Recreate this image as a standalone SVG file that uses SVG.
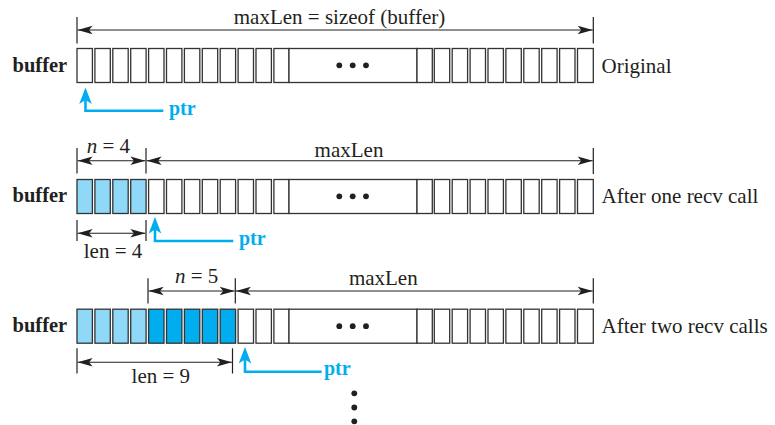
<svg xmlns="http://www.w3.org/2000/svg" width="775" height="425" viewBox="0 0 775 425">
<style>
.c{fill:#fff;stroke:#333;stroke-width:1.3}
.lb{fill:#8fd8f7}
.db{fill:#00adef}
.t{font-family:"Liberation Serif","Times New Roman",serif;font-size:21px;fill:#231f20}
.b{font-family:"Liberation Serif","Times New Roman",serif;font-size:20.5px;font-weight:bold;fill:#231f20}
.p{font-family:"Liberation Serif","Times New Roman",serif;font-size:20px;font-weight:bold;fill:#00aeef}
.dim{stroke:#231f20;stroke-width:1.1;fill:none}
.tick{stroke:#231f20;stroke-width:1.2}
.ptr{stroke:#00aeef;stroke-width:2.6;fill:none}
.ph{fill:#00aeef}
.dot{fill:#231f20}
</style>
<defs>
<marker id="ah" markerUnits="userSpaceOnUse" markerWidth="16" markerHeight="9" refX="15" refY="4.2" orient="auto-start-reverse" overflow="visible">
<path d="M0,0 L15,4.2 L0,8.4 L3.5,4.2 Z" fill="#231f20"/>
</marker>
<path id="ptrhead" d="M0,0 L6.3,16.5 L0,12.5 L-6.3,16.5 Z"/>
</defs>

<g id="row1">
<text class="b" x="12.5" y="72.3">buffer</text>
<rect class="c" x="77" y="48.5" width="15.4" height="34"/>
<rect class="c" x="94.9" y="48.5" width="15.4" height="34"/>
<rect class="c" x="112.8" y="48.5" width="15.4" height="34"/>
<rect class="c" x="130.7" y="48.5" width="15.4" height="34"/>
<rect class="c" x="148.6" y="48.5" width="15.4" height="34"/>
<rect class="c" x="166.5" y="48.5" width="15.4" height="34"/>
<rect class="c" x="184.4" y="48.5" width="15.4" height="34"/>
<rect class="c" x="202.3" y="48.5" width="15.4" height="34"/>
<rect class="c" x="220.2" y="48.5" width="15.4" height="34"/>
<rect class="c" x="238.1" y="48.5" width="15.4" height="34"/>
<rect class="c" x="256" y="48.5" width="15.4" height="34"/>
<rect class="c" x="273.9" y="48.5" width="15.1" height="34"/>
<rect class="c" x="289" y="48.5" width="128" height="34"/>
<rect class="c" x="417" y="48.5" width="15.3" height="34"/>
<rect class="c" x="434.3" y="48.5" width="15.4" height="34"/>
<rect class="c" x="452.2" y="48.5" width="15.4" height="34"/>
<rect class="c" x="470.1" y="48.5" width="15.4" height="34"/>
<rect class="c" x="488" y="48.5" width="15.4" height="34"/>
<rect class="c" x="505.9" y="48.5" width="15.4" height="34"/>
<rect class="c" x="523.8" y="48.5" width="15.4" height="34"/>
<rect class="c" x="541.7" y="48.5" width="15.4" height="34"/>
<rect class="c" x="559.6" y="48.5" width="15.4" height="34"/>
<rect class="c" x="577.5" y="48.5" width="15.8" height="34"/>
<circle class="dot" cx="339.3" cy="65.3" r="2.9"/>
<circle class="dot" cx="352.7" cy="65.3" r="2.9"/>
<circle class="dot" cx="366" cy="65.3" r="2.9"/>
<text class="t" x="601.5" y="72.5">Original</text>
<text class="t" x="339.5" y="24" text-anchor="middle">maxLen = sizeof (buffer)</text>
<text class="p" x="169" y="115">ptr</text>
</g>

<g id="row2">
<text class="b" x="12.5" y="202.3">buffer</text>
<rect class="c lb" x="77" y="179.5" width="15.4" height="34"/>
<rect class="c lb" x="94.9" y="179.5" width="15.4" height="34"/>
<rect class="c lb" x="112.8" y="179.5" width="15.4" height="34"/>
<rect class="c lb" x="130.7" y="179.5" width="15.4" height="34"/>
<rect class="c" x="148.6" y="179.5" width="15.4" height="34"/>
<rect class="c" x="166.5" y="179.5" width="15.4" height="34"/>
<rect class="c" x="184.4" y="179.5" width="15.4" height="34"/>
<rect class="c" x="202.3" y="179.5" width="15.4" height="34"/>
<rect class="c" x="220.2" y="179.5" width="15.4" height="34"/>
<rect class="c" x="238.1" y="179.5" width="15.4" height="34"/>
<rect class="c" x="256" y="179.5" width="15.4" height="34"/>
<rect class="c" x="273.9" y="179.5" width="15.1" height="34"/>
<rect class="c" x="289" y="179.5" width="128" height="34"/>
<rect class="c" x="417" y="179.5" width="15.3" height="34"/>
<rect class="c" x="434.3" y="179.5" width="15.4" height="34"/>
<rect class="c" x="452.2" y="179.5" width="15.4" height="34"/>
<rect class="c" x="470.1" y="179.5" width="15.4" height="34"/>
<rect class="c" x="488" y="179.5" width="15.4" height="34"/>
<rect class="c" x="505.9" y="179.5" width="15.4" height="34"/>
<rect class="c" x="523.8" y="179.5" width="15.4" height="34"/>
<rect class="c" x="541.7" y="179.5" width="15.4" height="34"/>
<rect class="c" x="559.6" y="179.5" width="15.4" height="34"/>
<rect class="c" x="577.5" y="179.5" width="15.8" height="34"/>
<circle class="dot" cx="339.3" cy="196.3" r="2.9"/>
<circle class="dot" cx="352.7" cy="196.3" r="2.9"/>
<circle class="dot" cx="366" cy="196.3" r="2.9"/>
<text class="t" x="601.5" y="202.5">After one recv call</text>
<text class="t" x="108.3" y="153.3" text-anchor="middle"><tspan font-style="italic">n</tspan> = 4</text>
<text class="t" x="349" y="156.7" text-anchor="middle">maxLen</text>
<text class="t" x="113" y="258.3" text-anchor="middle">len = 4</text>
<text class="p" x="239" y="245">ptr</text>
</g>

<g id="row3">
<text class="b" x="12.5" y="331.8">buffer</text>
<rect class="c lb" x="77" y="309.2" width="15.4" height="34"/>
<rect class="c lb" x="94.9" y="309.2" width="15.4" height="34"/>
<rect class="c lb" x="112.8" y="309.2" width="15.4" height="34"/>
<rect class="c lb" x="130.7" y="309.2" width="15.4" height="34"/>
<rect class="c db" x="148.6" y="309.2" width="15.4" height="34"/>
<rect class="c db" x="166.5" y="309.2" width="15.4" height="34"/>
<rect class="c db" x="184.4" y="309.2" width="15.4" height="34"/>
<rect class="c db" x="202.3" y="309.2" width="15.4" height="34"/>
<rect class="c db" x="220.2" y="309.2" width="15.4" height="34"/>
<rect class="c" x="238.1" y="309.2" width="15.4" height="34"/>
<rect class="c" x="256" y="309.2" width="15.4" height="34"/>
<rect class="c" x="273.9" y="309.2" width="15.1" height="34"/>
<rect class="c" x="289" y="309.2" width="128" height="34"/>
<rect class="c" x="417" y="309.2" width="15.3" height="34"/>
<rect class="c" x="434.3" y="309.2" width="15.4" height="34"/>
<rect class="c" x="452.2" y="309.2" width="15.4" height="34"/>
<rect class="c" x="470.1" y="309.2" width="15.4" height="34"/>
<rect class="c" x="488" y="309.2" width="15.4" height="34"/>
<rect class="c" x="505.9" y="309.2" width="15.4" height="34"/>
<rect class="c" x="523.8" y="309.2" width="15.4" height="34"/>
<rect class="c" x="541.7" y="309.2" width="15.4" height="34"/>
<rect class="c" x="559.6" y="309.2" width="15.4" height="34"/>
<rect class="c" x="577.5" y="309.2" width="15.8" height="34"/>
<circle class="dot" cx="339.3" cy="326.2" r="2.9"/>
<circle class="dot" cx="352.7" cy="326.2" r="2.9"/>
<circle class="dot" cx="366" cy="326.2" r="2.9"/>
<text class="t" x="601.5" y="333.3">After two recv calls</text>
<text class="t" x="196.7" y="283.3" text-anchor="middle"><tspan font-style="italic">n</tspan> = 5</text>
<text class="t" x="383.3" y="285" text-anchor="middle">maxLen</text>
<text class="t" x="160.8" y="383.3" text-anchor="middle">len = 9</text>
<text class="p" x="324" y="375">ptr</text>
</g>

<g id="more">
<circle class="dot" cx="354.3" cy="393.3" r="2.9"/>
<circle class="dot" cx="354.3" cy="407.5" r="2.9"/>
<circle class="dot" cx="354.3" cy="421.3" r="2.9"/>
</g>

<g id="connectors">
<line class="tick" x1="77" y1="17" x2="77" y2="43.5"/>
<line class="tick" x1="593.3" y1="17" x2="593.3" y2="43.5"/>
<line class="dim" x1="77.6" y1="30" x2="592.7" y2="30" marker-start="url(#ah)" marker-end="url(#ah)"/>
<path class="ptr" d="M163.3,110.7 H85.5 V98"/>
<use href="#ptrhead" class="ph" x="85.5" y="87.5"/>
<line class="tick" x1="77" y1="148" x2="77" y2="173.5"/>
<line class="tick" x1="146" y1="148" x2="146" y2="173.5"/>
<line class="tick" x1="593.3" y1="148" x2="593.3" y2="174"/>
<line class="dim" x1="77.6" y1="160.7" x2="145.4" y2="160.7" marker-start="url(#ah)" marker-end="url(#ah)"/>
<line class="dim" x1="146.6" y1="160.7" x2="592.7" y2="160.7" marker-start="url(#ah)" marker-end="url(#ah)"/>
<line class="tick" x1="77" y1="220" x2="77" y2="241"/>
<line class="tick" x1="146" y1="220" x2="146" y2="241"/>
<line class="dim" x1="77.6" y1="233.3" x2="145.4" y2="233.3" marker-start="url(#ah)" marker-end="url(#ah)"/>
<path class="ptr" d="M233.3,241 H155 V228"/>
<use href="#ptrhead" class="ph" x="155" y="217"/>
<line class="tick" x1="148" y1="278.3" x2="148" y2="303.5"/>
<line class="tick" x1="235.3" y1="278.3" x2="235.3" y2="303.5"/>
<line class="tick" x1="593.3" y1="278.3" x2="593.3" y2="303.5"/>
<line class="dim" x1="148.6" y1="291" x2="234.7" y2="291" marker-start="url(#ah)" marker-end="url(#ah)"/>
<line class="dim" x1="235.9" y1="291" x2="592.7" y2="291" marker-start="url(#ah)" marker-end="url(#ah)"/>
<line class="tick" x1="77" y1="348.3" x2="77" y2="373.5"/>
<line class="tick" x1="232.5" y1="348.3" x2="232.5" y2="373.5"/>
<line class="dim" x1="77.6" y1="362.3" x2="231.9" y2="362.3" marker-start="url(#ah)" marker-end="url(#ah)"/>
<path class="ptr" d="M321.7,371.7 H245 V358"/>
<use href="#ptrhead" class="ph" x="245" y="347"/>
</g>
</svg>
